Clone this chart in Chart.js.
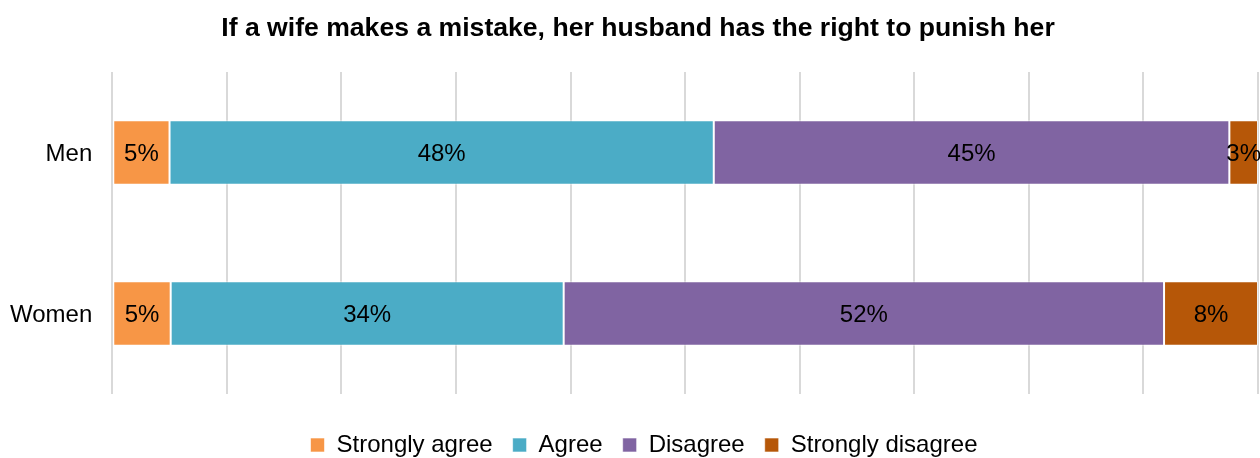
<!DOCTYPE html>
<html>
<head>
<meta charset="utf-8">
<script src="https://cdn.jsdelivr.net/npm/chart.js@4.4.1/dist/chart.umd.min.js"></script>
<style>
  html, body { margin: 0; padding: 0; background: #fff; }
  #wrap { width: 1260px; height: 458px; }
</style>
</head>
<body>
<div id="wrap"><canvas id="attitudeChart"></canvas></div>
<script>
const groups = ['Men', 'Women'];
const responses = ['Strongly agree', 'Agree', 'Disagree', 'Strongly disagree'];
const stronglyAgree = [5.0, 5.1];
const agree = [47.5, 34.3];
const disagree = [45.0, 52.4];
const stronglyDisagree = [2.5, 8.2];
const colors = ['#F79646', '#4BACC6', '#8064A2', '#B65708'];

const series = [stronglyAgree, agree, disagree, stronglyDisagree];
const FONT = '"Liberation Sans", Arial, sans-serif';

// percentage text in the middle of every segment
const segmentLabels = {
    id: 'segmentLabels',
    afterDatasetsDraw(chart) {
        const ctx = chart.ctx;
        ctx.save();
        ctx.font = '24px ' + FONT;
        ctx.fillStyle = '#000';
        ctx.textAlign = 'center';
        ctx.textBaseline = 'middle';
        chart.data.datasets.forEach((ds, i) => {
            chart.getDatasetMeta(i).data.forEach((bar, j) => {
                const x = (bar.x + bar.base) / 2;
                ctx.fillText(Math.round(ds.data[j]) + '%', x, bar.y + 2);
            });
        });
        ctx.restore();
    }
};

// centre title and legend on the canvas rather than on the padded box
const recentre = {
    id: 'recentre',
    afterLayout(chart) {
        if (chart.legend) {
            chart.legend.left += 20;
            chart.legend.right += 20;
        }
        if (chart.titleBlock) {
            chart.titleBlock.left += 14;
            chart.titleBlock.right += 14;
        }
    }
};

new Chart(document.getElementById('attitudeChart'), {
    type: 'bar',
    data: {
        labels: groups,
        datasets: responses.map((name, i) => ({
            label: name,
            data: series[i],
            backgroundColor: colors[i],
            borderColor: 'rgba(255,255,255,0.6)',
            borderWidth: 1,
            borderSkipped: false,
            barPercentage: 0.4,
            categoryPercentage: 1.0
        }))
    },
    options: {
        indexAxis: 'y',
        responsive: true,
        maintainAspectRatio: false,
        animation: false,
        layout: { padding: { left: -10, right: 2, top: 0, bottom: -9 } },
        plugins: {
            title: {
                display: true,
                text: 'If a wife makes a mistake, her husband has the right to punish her',
                color: '#000',
                font: { family: FONT, size: 26.6, weight: 'bold' },
                padding: { top: 13, bottom: 27 }
            },
            legend: {
                position: 'bottom',
                labels: {
                    color: '#000',
                    font: { family: FONT, size: 24 },
                    boxWidth: 14,
                    boxHeight: 14,
                    padding: 20
                }
            },
            tooltip: { enabled: false }
        },
        scales: {
            x: {
                stacked: true,
                min: 0,
                max: 100,
                ticks: { display: false, stepSize: 10 },
                grid: { color: '#d9d9d9', lineWidth: 2, drawTicks: false },
                border: { display: false },
                afterFit(scale) { scale.height = 19; }
            },
            y: {
                stacked: true,
                ticks: {
                    color: '#000',
                    padding: 20,
                    labelOffset: 2,
                    font: { family: FONT, size: 24 }
                },
                grid: { display: false, drawTicks: false },
                border: { display: false }
            }
        }
    },
    plugins: [segmentLabels, recentre]
});
</script>
</body>
</html>
